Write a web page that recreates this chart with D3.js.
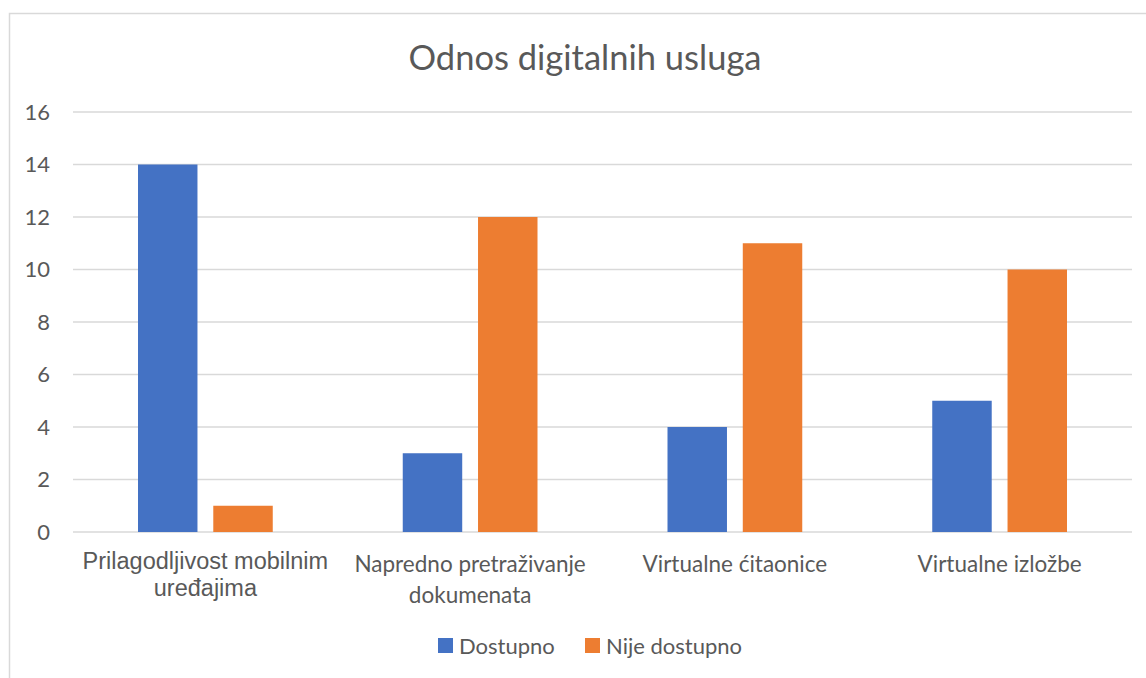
<!DOCTYPE html>
<html>
<head>
<meta charset="utf-8">
<script src="https://cdn.jsdelivr.net/npm/d3@7"></script>
<style>
  body { margin: 0; background: #fff; }
  svg { display: block; }
</style>
</head>
<body>
<div id="chart"></div>
<script>
// Data
const categories = [
  ['Prilagodljivost mobilnim', 'uređajima'],
  ['Napredno pretraživanje', 'dokumenata'],
  ['Virtualne ćitaonice'],
  ['Virtualne izložbe']
];
const seriesNames = ['Dostupno', 'Nije dostupno'];
const dostupno = [14, 3, 4, 5];
const nijeDostupno = [1, 12, 11, 10];
const yTicks = [0, 2, 4, 6, 8, 10, 12, 14, 16];

const colors = ['#4472C4', '#ED7D31'];
const width = 1146, height = 678;
const margin = { top: 112, left: 73, right: 14, bottom: 146 };

const svg = d3.select('#chart').append('svg')
  .attr('width', width)
  .attr('height', height);

// chart area border
svg.append('rect')
  .attr('x', 9.5).attr('y', 13.5)
  .attr('width', width + 10).attr('height', height + 10)
  .attr('fill', 'none')
  .attr('stroke', '#d9d9d9')
  .attr('stroke-width', 1.5);

const x = d3.scaleBand()
  .domain(d3.range(categories.length))
  .range([margin.left, width - margin.right])
  .paddingInner(0).paddingOuter(0);

const inner = d3.scaleBand()
  .domain([0, 1])
  .range([65, x.bandwidth() - 65])
  .paddingInner(0.21);

const y = d3.scaleLinear()
  .domain([0, 16])
  .range([height - margin.bottom, margin.top]);

// gridlines
svg.append('g')
  .selectAll('line')
  .data(yTicks)
  .enter().append('line')
  .attr('x1', margin.left)
  .attr('x2', width - margin.right)
  .attr('y1', d => y(d))
  .attr('y2', d => y(d))
  .attr('stroke', '#d9d9d9')
  .attr('stroke-width', 1.5);

// y tick labels
svg.append('g')
  .selectAll('text')
  .data(yTicks)
  .enter().append('text')
  .attr('x', 50)
  .attr('y', d => y(d))
  .attr('dy', '0.35em')
  .attr('text-anchor', 'end')
  .attr('fill', '#595959')
  .attr('font-family', 'Lato, sans-serif')
  .attr('font-size', 22)
  .text(d => d);

// bars
const rows = categories.map((c, i) => [dostupno[i], nijeDostupno[i]]);
const groups = svg.append('g')
  .selectAll('g')
  .data(rows)
  .enter().append('g')
  .attr('transform', (d, i) => `translate(${x(i)},0)`);

groups.selectAll('rect')
  .data(d => d)
  .enter().append('rect')
  .attr('x', (d, j) => inner(j))
  .attr('width', inner.bandwidth())
  .attr('y', d => y(d))
  .attr('height', d => y(0) - y(d))
  .attr('fill', (d, j) => colors[j]);

// category labels (first one is in a different font in the original)
const catLabels = svg.append('g')
  .selectAll('text')
  .data(categories)
  .enter().append('text')
  .attr('text-anchor', 'middle')
  .attr('fill', '#595959')
  .attr('font-family', (d, i) => i === 0 ? 'Liberation Sans, Arial, sans-serif' : 'Lato, sans-serif')
  .attr('font-size', (d, i) => i === 0 ? 23.5 : 22.5)
  .attr('transform', (d, i) => `translate(${x(i) + x.bandwidth() / 2},${i === 0 ? 569 : 572})`);

catLabels.selectAll('tspan')
  .data((d, i) => d.map(t => ({ t, i })))
  .enter().append('tspan')
  .attr('x', 0)
  .attr('y', (d, k) => k * (d.i === 0 ? 27 : 31))
  .text(d => d.t);

// title
svg.append('text')
  .attr('x', 585)
  .attr('y', 70)
  .attr('text-anchor', 'middle')
  .attr('fill', '#595959')
  .attr('font-family', 'Lato, sans-serif')
  .attr('font-size', 34.5)
  .text('Odnos digitalnih usluga');

// legend
const legendX = [438, 585];
const legend = svg.append('g')
  .selectAll('g')
  .data(seriesNames)
  .enter().append('g')
  .attr('transform', (d, i) => `translate(${legendX[i]},638)`);

legend.append('rect')
  .attr('width', 15).attr('height', 15)
  .attr('fill', (d, i) => colors[i]);

legend.append('text')
  .attr('x', 21)
  .attr('y', 8)
  .attr('dy', '0.35em')
  .attr('fill', '#595959')
  .attr('font-family', 'Lato, sans-serif')
  .attr('font-size', 22)
  .text(d => d);
</script>
</body>
</html>
